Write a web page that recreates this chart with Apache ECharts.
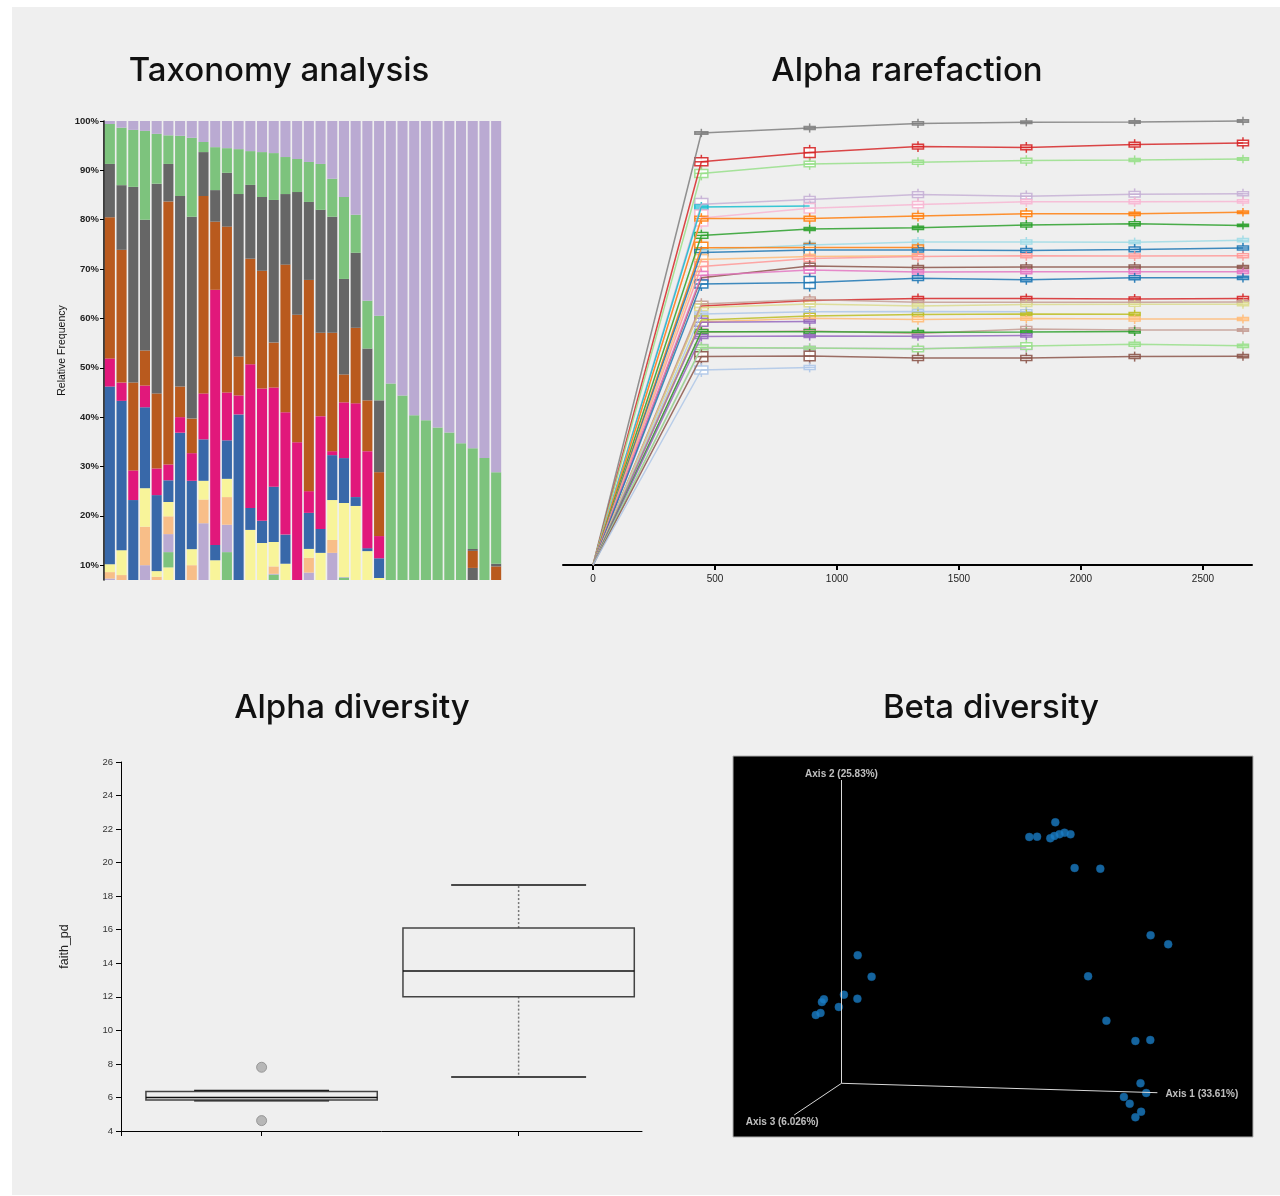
<!DOCTYPE html>
<html><head><meta charset="utf-8">
<script src="https://cdn.jsdelivr.net/npm/echarts@6/dist/echarts.min.js"></script>
<style>
html,body{margin:0;padding:0;background:#fff;}
#panel{position:absolute;left:12px;top:7px;width:1268px;height:1188px;background:#efefef;}
#chart{position:absolute;left:0;top:0;width:1280px;height:1196px;}
</style></head><body>
<div id="panel"></div><div id="chart"></div>
<script>
// ---------------- Taxonomy analysis (34 samples, % relative frequency, top-down layers) ----------------
const taxSamples = Array.from({length: 34}, (_, i) => 'S' + (i + 1));
const taxPurpleTop = [0.6,1.35,1.8,2.0,2.6,2.9,3.0,3.4,4.25,5.3,5.5,5.7,6.1,6.3,6.5,7.3,7.7,8.3,8.7,11.7,15.4,19.0,36.4,39.45,53.2,55.6,59.6,60.65,62.1,63.1,65.3,66.3,68.3,71.15];
const taxGreen = [8.1,11.65,11.55,18.0,10.1,5.8,12.2,16.0,2.05,8.7,5.0,9.1,6.85,9.1,9.5,7.5,6.7,8.1,9.3,7.7,16.6,7.7,9.7,17.15,46.8,44.4,40.4,39.35,37.9,36.9,34.7,20.4,31.7,18.55];
const taxGray = [10.8,13.1,39.65,26.5,42.5,7.6,38.6,40.9,8.9,6.4,10.9,32.9,14.95,14.95,28.9,14.3,24.85,15.8,24.9,23.5,19.35,15.2,10.5,14.55,0,0,0,0,0,0,0,0.4,0,0.55];
const taxBrown = [28.6,26.9,17.8,7.1,15.2,53.3,6.2,7.0,40.0,13.8,33.6,7.9,21.4,23.85,9.1,29.9,25.85,42.8,16.9,24.0,5.65,15.3,10.3,12.95,0,0,0,0,0,0,0,3.45,0,9.75];
const taxPink = [5.7,3.7,6.0,4.4,5.4,3.2,3.15,5.6,9.3,51.7,9.7,3.85,29.1,26.8,20.1,24.8,34.9,4.4,22.85,0.8,11.3,19.0,19.65,4.5,0,0,0,0,0,0,0,0,0,0];
const taxBlue = [36.0,30.25,23.2,16.4,15.4,4.4,36.85,13.85,8.4,3.1,7.8,40.55,4.45,4.5,11.2,5.9,0,7.3,4.85,9.1,9.1,1.8,0.6,4.0,0,0,0,0,0,0,0,0,0,0];
const taxYellow = [1.6,5.05,0,7.8,1.15,2.9,0,3.25,3.8,11.0,3.7,0,17.15,14.5,4.95,10.3,0,1.8,12.5,8.1,15.0,22.0,12.85,7.4,0,0,0,0,0,0,0,0,0,0];
const taxPeach = [1.3,8.0,0,7.8,7.65,3.6,0,10.0,4.8,0,5.6,0,0,0,1.5,0,0,3.0,0,2.6,0,0,0,0,0,0,0,0,0,0,0,0,0,0];
const taxPurple2 = [7.3,0,0,10.0,0,3.65,0,0,18.5,0,5.55,0,0,0,0.15,0,0,8.5,0,12.5,0.1,0,0,0,0,0,0,0,0,0,0,0,0,0];
const taxGreen2 = [0,0,0,0,0,3.1,0,0,0,0,12.65,0,0,0,8.1,0,0,0,0,0,7.5,0,0,0,0,0,0,0,0,0,0,0,0,0];
const taxGray2 = [0,0,0,0,0,0,0,0,0,0,0,0,0,0,0,0,0,0,0,0,0,0,0,0,0,0,0,0,0,0,0,9.45,0,0];
const taxYellow2 = [0,0,0,0,0,9.55,0,0,0,0,0,0,0,0,0,0,0,0,0,0,0,0,0,0,0,0,0,0,0,0,0,0,0,0];
const taxTicks = [10,20,30,40,50,60,70,80,90,100];

// ---------------- Alpha rarefaction ----------------
const rareDepths = [0, 444, 888, 1332, 1776, 2220, 2664];
const rareTicks = [0, 500, 1000, 1500, 2000, 2500];
const rareSamples = [
  {color:'#7f7f7f', med:[0,108.0,109.25,110.4,110.7,110.75,111.0], iqr:[0,0.3,0.4,0.4,0.3,0.3,0.3]},
  {color:'#d62728', med:[0,100.8,103.1,104.6,104.4,105.1,105.5], iqr:[0,1.0,1.2,0.6,0.6,0.6,0.7]},
  {color:'#98df8a', med:[0,97.9,100.25,100.7,101.1,101.25,101.5], iqr:[0,1.0,0.7,0.5,0.6,0.4,0.3]},
  {color:'#c5b0d5', med:[0,90.2,91.4,92.6,92.2,92.7,92.8], iqr:[0,1.4,0.7,0.7,0.7,0.7,0.5]},
  {color:'#17becf', med:[0,89.5,89.75], iqr:[0,0.5,0.4]},
  {color:'#f7b6d2', med:[0,86.75,89.2,90.1,90.8,90.8,90.9], iqr:[0,2.0,1.2,0.8,0.5,0.5,0.4]},
  {color:'#ff7f0e', med:[0,86.6,86.6,87.25,87.8,87.8,88.2], iqr:[0,0.6,0.6,0.6,0.7,0.4,0.3]},
  {color:'#2ca02c', med:[0,82.4,84.0,84.3,85.0,85.3,84.9], iqr:[0,0.7,0.4,0.4,0.5,0.5,0.3]},
  {color:'#9edae5', med:[0,78.75,80.0,80.75,80.75,80.7,81.2], iqr:[0,0.6,0.6,0.5,0.5,0.4,0.4]},
  {color:'#ff7f0e', med:[0,79.3,79.4,79.4], iqr:[0,1.4,1.0,0.6]},
  {color:'#1f77b4', med:[0,78.1,78.75,78.75,78.6,78.9,79.25], iqr:[0,0.8,1.4,0.5,0.5,0.6,0.5]},
  {color:'#ffbb78', med:[0,76.4,77.1,77.3], iqr:[0,1.2,0.6,0.5]},
  {color:'#ff9896', med:[0,74.6,76.6,77.1,77.3,77.25,77.3], iqr:[0,1.2,0.7,0.6,0.5,0.5,0.5]},
  {color:'#8c564b', med:[0,71.8,74.75,74.4,74.5,74.5,74.5], iqr:[0,0.8,0.7,0.5,0.5,0.5,0.4]},
  {color:'#e377c2', med:[0,72.4,73.75,73.25,73.3,73.3,73.3], iqr:[0,1.0,0.8,0.5,0.5,0.5,0.4]},
  {color:'#1f77b4', med:[0,70.25,70.6,71.7,71.3,71.8,71.8], iqr:[0,1.0,1.5,0.6,0.5,0.5,0.4]},
  {color:'#d62728', med:[0,64.75,66.1,66.6,66.6,66.5,66.6], iqr:[0,0.6,0.5,0.5,0.5,0.5,0.5]},
  {color:'#c49c94', med:[0,65.25,66.4,65.7,65.7,65.7,65.75], iqr:[0,0.7,0.6,0.5,0.5,0.5,0.4]},
  {color:'#dbdb8d', med:[0,64.4,65.25,64.75,65.1,65.2,65.2], iqr:[0,0.8,0.7,0.5,0.5,0.5,0.4]},
  {color:'#aec7e8', med:[0,62.75,63.3,63.4,63.3], iqr:[0,0.5,0.6,0.5,0.5]},
  {color:'#bcbd22', med:[0,61.25,62.25,62.6,62.75,62.7], iqr:[0,1.0,0.7,0.5,0.4,0.4]},
  {color:'#ffbb78', med:[0,60.75,61.7,61.4,61.6,61.5,61.5], iqr:[0,0.8,0.6,0.6,0.4,0.5,0.4]},
  {color:'#9467bd', med:[0,60.7,60.9], iqr:[0,1.0,0.4]},
  {color:'#c49c94', med:[0,58.2,58.5,57.9,59.0,58.75,58.75], iqr:[0,0.8,0.6,0.5,0.6,0.5,0.3]},
  {color:'#2ca02c', med:[0,58.3,58.3,58.2,58.25,58.4], iqr:[0,0.5,0.5,0.4,0.4,0.4]},
  {color:'#9467bd', med:[0,57.1,57.25,57.2,57.4], iqr:[0,0.5,0.4,0.4,0.4]},
  {color:'#c5b0d5', med:[0,54.2,54.2,54.1,54.3], iqr:[0,0.9,0.5,0.4,0.4]},
  {color:'#98df8a', med:[0,54.4,54.25,54.0,54.75,55.2,54.8], iqr:[0,0.6,0.4,0.7,0.8,0.5,0.4]},
  {color:'#8c564b', med:[0,52.1,52.25,51.75,51.75,52.1,52.2], iqr:[0,1.2,1.2,0.6,0.6,0.5,0.4]},
  {color:'#aec7e8', med:[0,48.75,49.4], iqr:[0,1.0,0.5]}
];

// ---------------- Alpha diversity (faith_pd) ----------------
const alphaGroups = [0, 1];
// [lower whisker, Q1, median, Q3, upper whisker]
const alphaStats = [[5.81, 5.85, 6.0, 6.35, 6.41], [7.22, 12.01, 13.54, 16.1, 18.67]];
const alphaOutliers = [[0, 7.8], [0, 4.62]];

// ---------------- Beta diversity (projected PCoA coordinates) ----------------
const betaPoints = [
  [2.138,2.61],[1.878,2.463],[1.956,2.466],[2.088,2.45],[2.128,2.473],[2.179,2.49],[2.23,2.506],[2.29,2.49],
  [2.331,2.153],[2.588,2.146],[3.091,1.48],[3.267,1.39],[2.466,1.07],[2.649,0.626],[2.939,0.423],[3.088,0.433],
  [2.99,0.0],[3.047,-0.097],[2.824,-0.137],[2.882,-0.204],[2.996,-0.284],[2.939,-0.34],
  [0.162,1.28],[0.301,1.066],[0.024,0.886],[0.159,0.846],[-0.176,0.84],[-0.196,0.813],[-0.027,0.763],[-0.21,0.703],[-0.257,0.683]
];
const betaOrigin = [0, 0];
const betaAxisEnds = [[3.159, -0.094], [0, 3.033], [-0.473, -0.317]];
const betaAxisNames = ['Axis 1 (33.61%)', 'Axis 2 (25.83%)', 'Axis 3 (6.026%)'];

// ---------------- build ----------------
const FONT = "'Liberation Sans', Arial, sans-serif";
const TITLE_FONT = "500 33px Inter, 'Noto Sans', sans-serif";

const taxLayers = [ // bottom-up stacking order
  ['Yellow 2', taxYellow2, '#f8f49a'],
  ['Gray 2', taxGray2, '#666666'],
  ['Green 2', taxGreen2, '#7dc37d'],
  ['Purple 2', taxPurple2, '#baaad2'],
  ['Peach', taxPeach, '#f8be88'],
  ['Yellow', taxYellow, '#f8f49a'],
  ['Blue', taxBlue, '#3868a9'],
  ['Pink', taxPink, '#e1187b'],
  ['Brown', taxBrown, '#b95a1e'],
  ['Gray', taxGray, '#666666'],
  ['Green', taxGreen, '#7dc37d'],
  ['Purple', taxPurpleTop, '#baaad2']
];

const series = [];
taxLayers.forEach(([name, data, color]) => {
  series.push({
    type: 'bar', name, stack: 'tax', data, xAxisIndex: 0, yAxisIndex: 0,
    itemStyle: {color}, barCategoryGap: '14%', clip: true, silent: true
  });
});

rareSamples.forEach((s) => {
  series.push({
    type: 'line', xAxisIndex: 1, yAxisIndex: 1, symbol: 'none', silent: true,
    data: s.med.map((v, i) => [rareDepths[i], v]),
    lineStyle: {color: s.color, width: 1.5, opacity: 0.85}
  });
});

const rareBoxData = [];
rareSamples.forEach((s, si) => {
  s.med.forEach((v, i) => {
    if (i > 0) rareBoxData.push([rareDepths[i], v, s.iqr[i], si]);
  });
});
series.push({
  type: 'custom', xAxisIndex: 1, yAxisIndex: 1, data: rareBoxData, silent: true,
  encode: {x: 0, y: 1},
  renderItem: function (params, api) {
    const x = api.value(0), m = api.value(1), q = api.value(2), si = api.value(3);
    const c = api.coord([x, m]);
    const t = api.coord([x, m + q]);
    const b = api.coord([x, m - q]);
    const col = rareSamples[si].color;
    const w = x < 600 ? 13 : 11;
    const h = Math.max(b[1] - t[1], 2);
    return {type: 'group', children: [
      {type: 'line', shape: {x1: c[0], y1: c[1] - h / 2 - 3, x2: c[0], y2: c[1] + h / 2 + 3}, style: {stroke: col, lineWidth: 1.5, opacity: 0.9}},
      {type: 'rect', shape: {x: c[0] - w / 2, y: c[1] - h / 2, width: w, height: h}, style: {fill: '#ffffff', stroke: col, lineWidth: 1.5, opacity: 0.9}},
      {type: 'line', shape: {x1: c[0] - w / 2, y1: c[1], x2: c[0] + w / 2, y2: c[1]}, style: {stroke: col, lineWidth: 1.5, opacity: 0.9}}
    ]};
  }
});

series.push({
  type: 'custom', xAxisIndex: 2, yAxisIndex: 2, silent: true,
  data: alphaGroups.map((g, i) => [g].concat(alphaStats[i])),
  encode: {x: 0, y: [1, 2, 3, 4, 5]},
  renderItem: function (params, api) {
    const p = api.value(0);
    const lo = api.value(1), q1 = api.value(2), md = api.value(3), q3 = api.value(4), hi = api.value(5);
    const bw = api.size([0.9, 0])[0], cw = api.size([0.525, 0])[0];
    const cx = api.coord([p, md])[0];
    const Y = v => api.coord([p, v])[1];
    const dot = {stroke: '#777', lineWidth: 1.5, lineDash: [2, 2]};
    const solid = {stroke: '#111', lineWidth: 1.5};
    return {type: 'group', children: [
      {type: 'line', shape: {x1: cx, y1: Y(q3), x2: cx, y2: Y(hi)}, style: dot},
      {type: 'line', shape: {x1: cx, y1: Y(q1), x2: cx, y2: Y(lo)}, style: dot},
      {type: 'line', shape: {x1: cx - cw / 2, y1: Y(hi), x2: cx + cw / 2, y2: Y(hi)}, style: solid},
      {type: 'line', shape: {x1: cx - cw / 2, y1: Y(lo), x2: cx + cw / 2, y2: Y(lo)}, style: solid},
      {type: 'rect', shape: {x: cx - bw / 2, y: Y(q3), width: bw, height: Y(q1) - Y(q3)}, style: {fill: 'rgba(255,255,255,0)', stroke: '#444', lineWidth: 1.5}},
      {type: 'line', shape: {x1: cx - bw / 2, y1: Y(md), x2: cx + bw / 2, y2: Y(md)}, style: solid}
    ]};
  }
});
series.push({
  type: 'scatter', xAxisIndex: 2, yAxisIndex: 2, data: alphaOutliers, symbolSize: 10, silent: true,
  itemStyle: {color: '#a9a9a9', borderColor: '#8a8a8a', borderWidth: 1}
});

betaAxisEnds.forEach((e) => {
  series.push({
    type: 'line', xAxisIndex: 3, yAxisIndex: 3, symbol: 'none', silent: true,
    data: [betaOrigin, e], lineStyle: {color: '#d8d8d8', width: 1}
  });
});
series.push({
  type: 'scatter', xAxisIndex: 3, yAxisIndex: 3, data: betaPoints, symbolSize: 8, silent: true,
  itemStyle: {color: '#1a7dc6', borderColor: '#115e98', borderWidth: 0.5}
});
const labelPos = [
  {position: 'right', distance: 7, offset: [0, 2]},
  {position: 'top', distance: 2, offset: [0, 2]},
  {position: 'bottom', distance: 0, offset: [-12, 1]}
];
series.push({
  type: 'scatter', xAxisIndex: 3, yAxisIndex: 3, symbolSize: 2, silent: true,
  itemStyle: {color: 'rgba(0,0,0,0)'},
  data: betaAxisEnds.map((e, i) => ({
    value: e,
    label: Object.assign({show: true, formatter: betaAxisNames[i], color: '#eeeeee', fontSize: 10, fontWeight: 'bold', fontFamily: FONT}, labelPos[i])
  }))
});

const titleText = (txt, x, y) => ({
  type: 'text', x, y, silent: true,
  style: {text: txt, font: TITLE_FONT, fill: '#111', align: 'center', verticalAlign: 'middle', textAlign: 'center', textVerticalAlign: 'middle'}
});

const option = {
  animation: false,
  backgroundColor: 'transparent',
  graphic: [
    titleText('Taxonomy analysis', 279, 71),
    titleText('Alpha rarefaction', 907, 71),
    titleText('Alpha diversity', 352, 708),
    titleText('Beta diversity', 991, 708)
  ],
  grid: [
    {left: 104, top: 121, width: 398, height: 459},
    {left: 563, top: 115, width: 689, height: 450},
    {left: 121, top: 762, width: 521, height: 369},
    {left: 733, top: 756, width: 520, height: 381, show: true, backgroundColor: '#000', borderColor: '#b0b0b0', borderWidth: 1}
  ],
  xAxis: [
    {gridIndex: 0, type: 'category', data: taxSamples, show: false},
    {gridIndex: 1, type: 'value', min: -123, max: 2701,
      axisLine: {show: true, onZero: false, lineStyle: {color: '#000', width: 2}},
      axisTick: {show: true, length: 5, customValues: rareTicks, lineStyle: {color: '#000', width: 2}},
      axisLabel: {customValues: rareTicks, formatter: v => String(v), fontSize: 10, color: '#222', fontFamily: FONT, margin: 9},
      splitLine: {show: false}},
    {gridIndex: 2, type: 'value', min: -0.547, max: 1.48,
      axisLine: {show: true, onZero: false, lineStyle: {color: '#000', width: 1}},
      axisTick: {show: true, length: 5, customValues: [-0.547, 0, 1], lineStyle: {color: '#000'}},
      axisLabel: {show: false}, splitLine: {show: false}},
    {gridIndex: 3, type: 'value', min: -1.085, max: 4.115, show: false}
  ],
  yAxis: [
    {gridIndex: 0, type: 'value', min: 7, max: 100,
      name: 'Relative Frequency', nameLocation: 'middle', nameGap: 36,
      nameTextStyle: {fontSize: 10.5, color: '#111', fontFamily: FONT},
      axisLine: {show: true, onZero: false, lineStyle: {color: '#000', width: 1.5}},
      axisTick: {show: true, length: 4, customValues: taxTicks, lineStyle: {color: '#000'}},
      axisLabel: {customValues: taxTicks, formatter: v => v + '%', fontSize: 9.5, fontWeight: 'bold', color: '#222', fontFamily: FONT, margin: 5},
      splitLine: {show: false}},
    {gridIndex: 1, type: 'value', min: 0, max: 112.5, show: false},
    {gridIndex: 2, type: 'value', min: 4, max: 26, interval: 2,
      name: 'faith_pd', nameLocation: 'middle', nameGap: 50,
      nameTextStyle: {fontSize: 12.5, color: '#222', fontFamily: FONT},
      axisLine: {show: true, onZero: false, lineStyle: {color: '#000', width: 1}},
      axisTick: {show: true, length: 5, lineStyle: {color: '#000'}},
      axisLabel: {fontSize: 9.5, color: '#333', fontFamily: FONT, margin: 8},
      splitLine: {show: false}},
    {gridIndex: 3, type: 'value', min: -0.537, max: 3.273, show: false}
  ],
  series
};

const chart = echarts.init(document.getElementById('chart'), null, {renderer: 'canvas'});
chart.setOption(option);
</script></body></html>
